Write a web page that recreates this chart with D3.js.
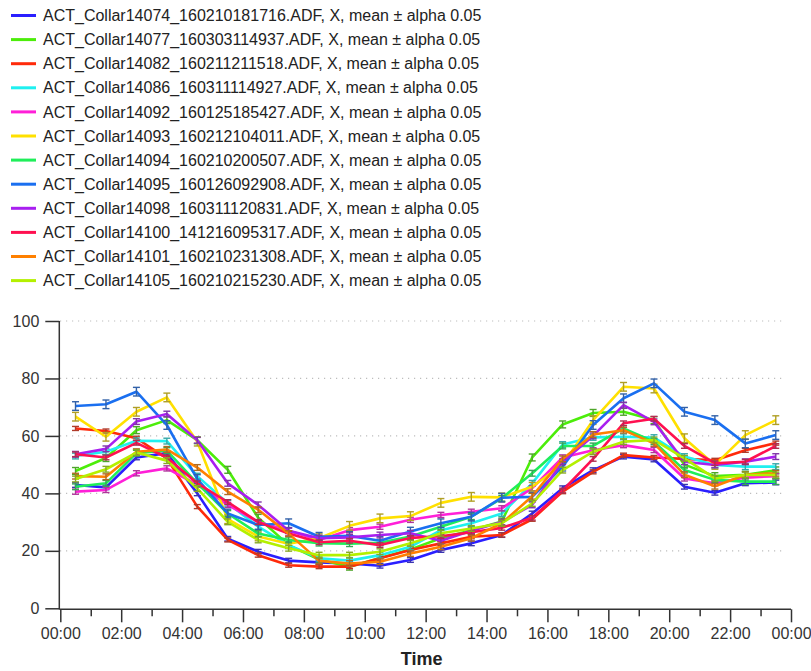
<!DOCTYPE html>
<html><head><meta charset="utf-8">
<script src="https://cdn.jsdelivr.net/npm/d3@7/dist/d3.min.js"></script>
<style>body{margin:0;background:#fff}svg{display:block;font-family:"Liberation Sans",Arial,sans-serif}</style>
</head><body><svg id="c" width="811" height="671"></svg>
<script>
const hours = [0.5,1.5,2.5,3.5,4.5,5.5,6.5,7.5,8.5,9.5,10.5,11.5,12.5,13.5,14.5,15.5,16.5,17.5,18.5,19.5,20.5,21.5,22.5,23.5];
const names = [
 "ACT_Collar14074_160210181716.ADF, X, mean ± alpha 0.05",
 "ACT_Collar14077_160303114937.ADF, X, mean ± alpha 0.05",
 "ACT_Collar14082_160211211518.ADF, X, mean ± alpha 0.05",
 "ACT_Collar14086_160311114927.ADF, X, mean ± alpha 0.05",
 "ACT_Collar14092_160125185427.ADF, X, mean ± alpha 0.05",
 "ACT_Collar14093_160212104011.ADF, X, mean ± alpha 0.05",
 "ACT_Collar14094_160210200507.ADF, X, mean ± alpha 0.05",
 "ACT_Collar14095_160126092908.ADF, X, mean ± alpha 0.05",
 "ACT_Collar14098_160311120831.ADF, X, mean ± alpha 0.05",
 "ACT_Collar14100_141216095317.ADF, X, mean ± alpha 0.05",
 "ACT_Collar14101_160210231308.ADF, X, mean ± alpha 0.05",
 "ACT_Collar14105_160210215230.ADF, X, mean ± alpha 0.05"
];
const colors = ["#2a1fff","#4ced0a","#ff2a0a","#1ff0f0","#ff1fd8","#ffe000","#1fee5a","#1a6ff0","#a81ff0","#ff1050","#ff8000","#b4f000"];
const s14074 = [42.9,42.1,52.5,54.0,40.0,24.2,19.7,16.6,16.0,15.6,14.8,16.8,20.3,22.6,25.5,33.0,41.8,48.1,52.8,51.8,42.3,40.2,43.5,43.8];
const s14077 = [47.8,52.3,62.0,65.5,58.5,48.2,31.5,22.0,17.0,14.5,17.5,20.5,24.4,27.2,30.2,52.5,64.0,68.0,68.4,65.5,50.0,46.0,46.5,48.0];
const s14082 = [62.6,61.7,59.2,52.2,35.4,23.8,18.5,15.0,14.5,14.5,17.4,20.3,22.6,24.9,25.5,31.0,40.6,47.5,53.3,52.5,52.0,51.5,55.0,57.5];
const s14086 = [53.0,54.5,58.3,58.2,46.0,36.6,28.4,22.0,17.4,16.6,18.5,21.4,27.2,29.6,33.0,43.5,57.0,59.5,59.7,59.4,52.8,49.9,49.3,49.3];
const s14092 = [40.6,41.2,47.0,48.7,43.0,36.0,30.0,27.0,23.8,27.2,28.4,30.8,32.5,33.6,34.8,41.8,52.5,55.0,56.8,55.1,45.2,43.5,45.5,46.0];
const s14093 = [66.7,59.7,68.4,73.4,58.0,31.0,25.0,22.5,24.4,28.7,31.3,32.1,36.7,38.8,38.6,42.3,50.0,65.5,77.1,76.5,59.2,49.9,60.3,65.5];
const s14094 = [42.3,43.5,54.0,54.9,43.5,33.0,26.0,23.8,22.7,22.5,22.8,25.0,28.4,31.9,38.3,47.0,56.5,56.5,62.6,58.0,48.1,44.7,44.1,44.1];
const s14095 = [70.4,71.0,75.4,63.8,45.0,33.0,29.0,29.6,24.9,25.2,23.5,26.7,29.6,31.9,38.5,38.8,49.3,63.8,73.1,78.3,68.4,65.5,57.4,60.3];
const s14098 = [53.6,55.5,65.0,67.6,58.5,43.5,36.0,27.0,24.4,24.7,25.5,26.1,23.5,27.0,30.0,36.0,51.0,60.0,70.7,64.9,51.0,49.9,51.0,52.8];
const s14100 = [53.6,52.5,57.6,52.5,43.5,37.0,30.0,26.0,23.0,23.5,22.0,24.5,25.1,26.5,28.0,31.5,41.0,52.0,64.4,66.0,56.5,50.5,51.0,56.5];
const s14101 = [46.0,45.8,54.5,55.3,49.0,40.6,34.3,26.0,16.5,15.6,16.2,19.1,21.4,24.4,29.6,39.0,52.0,60.5,62.0,57.4,46.5,42.5,46.5,47.0];
const s14105 = [45.0,48.4,54.2,51.4,41.7,30.1,23.8,20.9,18.5,18.5,19.7,22.6,26.1,27.8,29.6,36.5,48.1,54.5,58.0,58.6,52.2,45.2,46.4,46.4];
const seriesValues = [s14074,s14077,s14082,s14086,s14092,s14093,s14094,s14095,s14098,s14100,s14101,s14105];
const errHalf = [0.8,1.2,0.7,1.0,0.9,1.5,1.0,1.5,1.0,0.8,1.0,1.0];
const xTickValues = [0,2,4,6,8,10,12,14,16,18,20,22,24];
const xTickLabels = ["00:00","02:00","04:00","06:00","08:00","10:00","12:00","14:00","16:00","18:00","20:00","22:00","00:00"];
const yTickValues = [0,20,40,60,80,100];

const svg = d3.select("#c");
const x = d3.scaleLinear().domain([0,24]).range([60.3,791]);
const y = d3.scaleLinear().domain([0,100]).range([608.3,321]);

// grid
svg.append("g").selectAll("line").data(yTickValues.slice(1)).join("line")
  .attr("x1",60).attr("x2",783).attr("y1",d=>y(d)).attr("y2",d=>y(d))
  .attr("stroke","#bdbdbd").attr("stroke-width",1.2).attr("stroke-dasharray","1.2,4.8");

// axes
const yAxis = d3.axisLeft(y).tickValues(yTickValues).tickSize(14).tickPadding(6);
const gy = svg.append("g").attr("transform","translate(59.3,0)").call(yAxis);
gy.select(".domain").attr("stroke","#333").attr("stroke-width",1.5).attr("d","M0,"+(y(100))+"V"+(y(0)+1));
gy.selectAll(".tick line").attr("stroke","#333").attr("stroke-width",1.5);
gy.selectAll(".tick text").attr("font-size",16).attr("fill","#333").attr("font-family","Liberation Sans, Arial, sans-serif");

const xAxis = d3.axisBottom(x).tickValues(xTickValues).tickSize(13).tickPadding(5).tickFormat((d,i)=>xTickLabels[i]);
const gx = svg.append("g").attr("transform","translate(0,609.3)").call(xAxis);
gx.select(".domain").attr("stroke","#333").attr("stroke-width",1.5).attr("d","M"+(x(0)-1)+",0H"+x(24));
gx.selectAll(".tick line").attr("stroke","#333").attr("stroke-width",1.5);
gx.selectAll(".tick text").attr("font-size",16).attr("fill","#333").attr("font-family","Liberation Sans, Arial, sans-serif");
const minor = d3.axisBottom(x).tickValues(d3.range(1,24,2)).tickSize(7).tickFormat("");
const gm = svg.append("g").attr("transform","translate(0,609.3)").call(minor);
gm.select(".domain").remove();
gm.selectAll(".tick line").attr("stroke","#333").attr("stroke-width",1.5);

svg.append("text").attr("x",(x(0)+x(24))/2-4).attr("y",665).attr("text-anchor","middle")
  .attr("font-size",18).attr("font-weight","bold").attr("fill","#222").text("Time");

// series
const line = d3.line().x((d,i)=>x(hours[i])).y(d=>y(d));
const plot = svg.append("g");
seriesValues.forEach((vals,si)=>{
  const c = colors[si];
  const ec = d3.interpolateRgb(c,"#505050")(0.45);
  const g = plot.append("g");
  g.append("path").datum(vals).attr("d",line).attr("fill","none").attr("stroke",c)
    .attr("stroke-width",2.6).attr("stroke-linejoin","round");
  const e = errHalf[si];
  const eb = g.append("g").attr("stroke",ec).attr("stroke-width",1.4);
  vals.forEach((v,i)=>{
    const cx = x(hours[i]);
    eb.append("line").attr("x1",cx).attr("x2",cx).attr("y1",y(v+e)).attr("y2",y(v-e));
    eb.append("line").attr("x1",cx-3.5).attr("x2",cx+3.5).attr("y1",y(v+e)).attr("y2",y(v+e));
    eb.append("line").attr("x1",cx-3.5).attr("x2",cx+3.5).attr("y1",y(v-e)).attr("y2",y(v-e));
  });
});

// legend
const lg = svg.append("g");
names.forEach((n,i)=>{
  const yy = 15.5 + i*24.1;
  lg.append("line").attr("x1",11).attr("x2",36).attr("y1",yy).attr("y2",yy).attr("stroke",colors[i]).attr("stroke-width",3);
  lg.append("text").attr("x",43).attr("y",yy+5.6).attr("font-size",16).attr("fill","#222").text(n);
});
</script></body></html>
